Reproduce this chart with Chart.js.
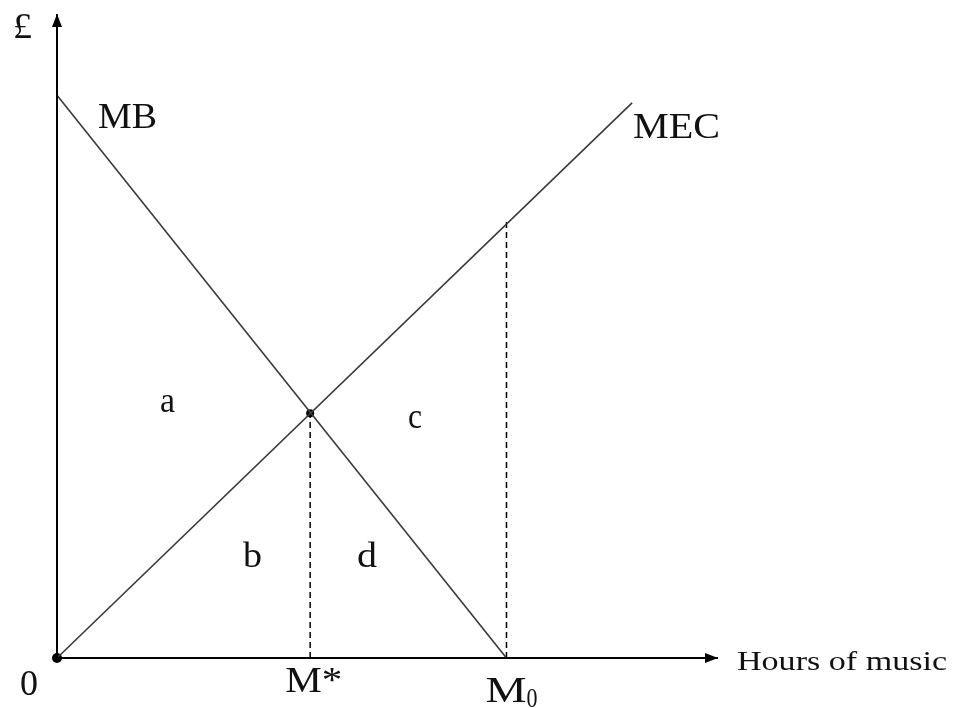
<!DOCTYPE html>
<html>
<head>
<meta charset="utf-8">
<script src="https://cdn.jsdelivr.net/npm/chart.js@4"></script>
<style>
  html, body { margin: 0; padding: 0; background: #fff; }
  #wrap { width: 954px; height: 708px; }
</style>
</head>
<body>
<div id="wrap"><canvas id="chart" width="954" height="708"></canvas></div>
<script>
// curves (x = hours of music, y = £)
const mbX = [0, 68];
const mbY = [87.4, 0];
const mecX = [0, 87];
const mecY = [0, 86.2];
const equilibrium = [38.3, 38];   // M*, where MB meets MEC
const m0X = 68;
const m0Top = 68;
const axisMax = [100, 100];

const toPoints = (xs, ys) => xs.map((x, i) => ({ x: x, y: ys[i] }));

// draws text with its left edge at x, stretched to a given width
function drawText(ctx, text, x, y, size, width) {
  ctx.save();
  ctx.font = size + 'px "Liberation Serif", "Times New Roman", serif';
  const w = ctx.measureText(text).width;
  ctx.translate(x, y);
  ctx.scale(width / w, 1);
  ctx.textAlign = 'left';
  ctx.textBaseline = 'alphabetic';
  ctx.fillText(text, 0, 0);
  ctx.restore();
}

const extrasPlugin = {
  id: 'extras',
  afterDatasetsDraw(chart) {
    const ctx = chart.ctx;
    const xs = chart.scales.x, ys = chart.scales.y;
    const ox = xs.getPixelForValue(0), oy = ys.getPixelForValue(0);
    const tipX = xs.getPixelForValue(axisMax[0]);
    const tipY = ys.getPixelForValue(axisMax[1]);

    // arrow heads
    ctx.save();
    ctx.fillStyle = '#000';
    ctx.beginPath();
    ctx.moveTo(ox, tipY);
    ctx.lineTo(ox - 5, tipY + 13);
    ctx.lineTo(ox + 5, tipY + 13);
    ctx.closePath();
    ctx.fill();
    ctx.beginPath();
    ctx.moveTo(tipX, oy);
    ctx.lineTo(tipX - 13, oy - 5);
    ctx.lineTo(tipX - 13, oy + 5);
    ctx.closePath();
    ctx.fill();
    ctx.restore();

    ctx.fillStyle = '#111';
    drawText(ctx, '£', 13, 38, 36, 19);
    drawText(ctx, 'MB', 98, 128, 36, 59);
    drawText(ctx, 'MEC', 633, 138, 36, 87);
    drawText(ctx, 'a', 160, 412, 36, 15);
    drawText(ctx, 'c', 408, 428, 36, 14);
    drawText(ctx, 'b', 243, 567, 36, 19);
    drawText(ctx, 'd', 357, 567, 36, 20);

    // labels under the x axis
    drawText(ctx, '0', ox - 37, 695, 36, 18);
    const msx = xs.getPixelForValue(equilibrium[0]);
    drawText(ctx, 'M*', msx - 25, 692, 36, 57);
    const m0 = xs.getPixelForValue(m0X);
    drawText(ctx, 'M', m0 - 21, 702, 36, 41);
    drawText(ctx, '0', m0 + 20, 707, 28, 11);
    drawText(ctx, 'Hours of music', tipX + 19, 670, 28, 210);
  }
};

const solid = { showLine: true, pointRadius: 0, fill: false, clip: false };

new Chart(document.getElementById('chart'), {
  type: 'scatter',
  data: {
    datasets: [
      { ...solid, label: 'y axis', data: toPoints([0, 0], [0, axisMax[1]]), borderColor: '#000', borderWidth: 2 },
      { ...solid, label: 'x axis', data: toPoints([0, axisMax[0]], [0, 0]), borderColor: '#000', borderWidth: 2 },
      { ...solid, label: 'MB', data: toPoints(mbX, mbY), borderColor: '#3a3a3a', borderWidth: 1.6 },
      { ...solid, label: 'MEC', data: toPoints(mecX, mecY), borderColor: '#3a3a3a', borderWidth: 1.6 },
      { ...solid, label: 'M* drop', data: toPoints([equilibrium[0], equilibrium[0]], [0, equilibrium[1]]),
        borderColor: '#000', borderWidth: 1.5, borderDash: [6, 4] },
      { ...solid, label: 'M0 drop', data: toPoints([m0X, m0X], [0, m0Top]),
        borderColor: '#000', borderWidth: 1.5, borderDash: [6, 4] },
      { label: 'dots', data: toPoints([0, equilibrium[0]], [0, equilibrium[1]]), clip: false,
        pointRadius: [5, 4], pointBackgroundColor: '#000', pointBorderColor: '#000',
        pointBorderWidth: 0, showLine: false }
    ]
  },
  options: {
    responsive: false,
    animation: false,
    layout: { padding: { left: 57, top: 14, right: 236, bottom: 50 } },
    scales: {
      x: { type: 'linear', min: 0, max: axisMax[0], display: false },
      y: { type: 'linear', min: 0, max: axisMax[1], display: false }
    },
    plugins: {
      legend: { display: false },
      tooltip: { enabled: false }
    }
  },
  plugins: [extrasPlugin]
});
</script>
</body>
</html>
